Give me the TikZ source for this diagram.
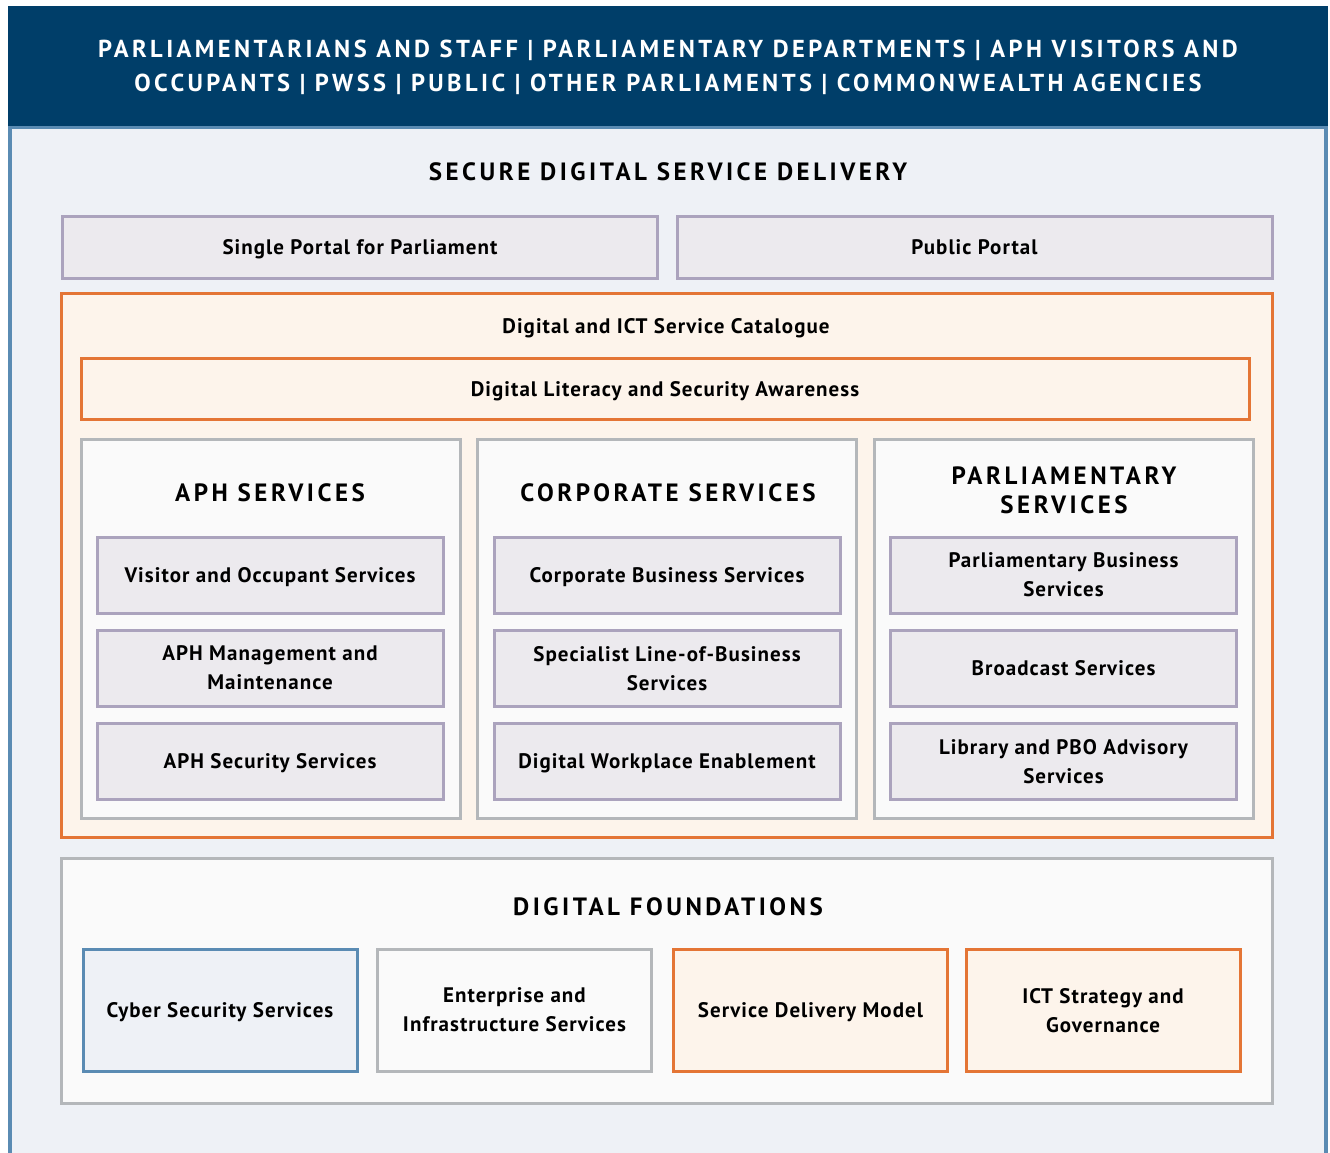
\documentclass[tikz,border=0pt]{standalone}
\usepackage{fontspec}
\setmainfont{PT Sans}
\newfontfamily\spacedfont[LetterSpace=14]{PT Sans}
\newfontfamily\trackfont[LetterSpace=5]{PT Sans}
\usetikzlibrary{positioning}

\definecolor{bannerblue}{HTML}{003E69}
\definecolor{panelfill}{HTML}{EEF1F6}
\definecolor{panelline}{HTML}{5A8BB3}
\definecolor{portalfill}{HTML}{ECEAEE}
\definecolor{portalline}{HTML}{ABA3BD}
\definecolor{catline}{HTML}{E47535}
\definecolor{catfill}{HTML}{FDF4EB}
\definecolor{greyline}{HTML}{B4B7BA}
\definecolor{whitefill}{HTML}{FAFAFA}

\newcommand{\boxfont}{\trackfont\fontsize{21}{29}\selectfont\bfseries}
\newcommand{\headfont}{\spacedfont\fontsize{25}{29}\selectfont\bfseries}

\begin{document}
\begin{tikzpicture}[x=1pt,y=-1pt,
  svcbox/.style={draw=portalline, fill=portalfill, line width=3pt, minimum width=346pt, minimum height=76pt, align=center, font=\boxfont, inner sep=0pt},
  portalbox/.style={svcbox, minimum width=595pt, minimum height=62pt},
  orangebox/.style={draw=catline, fill=catfill, line width=3pt, inner sep=0pt},
  greybox/.style={draw=greyline, fill=whitefill, line width=3pt, inner sep=0pt},
  columnbox/.style={greybox, minimum width=379pt, minimum height=379pt},
  footbox/.style={line width=3pt, minimum width=274pt, minimum height=122pt, align=center, font=\boxfont, inner sep=0pt},
  heading/.style={align=center, font=\headfont, inner sep=0pt},
  oneline/.style={text height=15pt, text depth=0pt},
  twoline/.style={text depth=0pt}]
\useasboundingbox (0,0) rectangle (1330,1153);
\fill[white] (0,0) rectangle (1330,1153);

% Panel and banner
\draw[panelline, fill=panelfill, line width=4pt] (10,127) rectangle (1326,1170);
\fill[bannerblue] (8,6) rectangle (1328,126);
\node[heading, text=white, font=\spacedfont\fontsize{24.5}{34}\selectfont\bfseries] (users) at (668,67)
  {PARLIAMENTARIANS AND STAFF | PARLIAMENTARY DEPARTMENTS | APH VISITORS AND\\
   OCCUPANTS | PWSS | PUBLIC | OTHER PARLIAMENTS | COMMONWEALTH AGENCIES};

\node[heading] (delivery) at (668,172) {SECURE DIGITAL SERVICE DELIVERY};

% Portals
\node[portalbox, oneline] (single) at (360,247) {Single Portal for Parliament};
\node[portalbox, oneline] (public) at (974.5,247) {Public Portal};

% Service catalogue
\node[orangebox, minimum width=1211pt, minimum height=544pt] (catalogue) at (666.5,565) {};
\node[font=\boxfont, oneline] (cattitle) at (666,326) {Digital and ICT Service Catalogue};
\node[orangebox, oneline, minimum width=1168pt, minimum height=61pt, font=\boxfont] (literacy) at (665,388.5)
  {Digital Literacy and Security Awareness};

% Columns
\node[columnbox] (aph) at (270.5,628.5) {};
\node[columnbox] (corp) at (667,628.5) {};
\node[columnbox] (parl) at (1063.5,628.5) {};
\node[heading] (aphtitle) at (270,493) {APH SERVICES};
\node[heading] (corptitle) at (668,493) {CORPORATE SERVICES};
\node[heading] (parltitle) at (1064,490) {PARLIAMENTARY\\SERVICES};

% APH services
\node[svcbox, oneline] (visitor) at (270,575) {Visitor and Occupant Services};
\node[svcbox, twoline] (maint) at (270,668) {APH Management and\\Maintenance};
\node[svcbox, oneline] (security) at (270,761) {APH Security Services};

% Corporate services
\node[svcbox, oneline] (business) at (667,575) {Corporate Business Services};
\node[svcbox, twoline] (specialist) at (667,668) {Specialist Line-of-Business\\Services};
\node[svcbox, oneline] (workplace) at (667,761) {Digital Workplace Enablement};

% Parliamentary services
\node[svcbox, twoline] (parlbus) at (1063.5,575) {Parliamentary Business\\Services};
\node[svcbox, oneline] (broadcast) at (1063.5,668) {Broadcast Services};
\node[svcbox, twoline] (library) at (1063.5,761) {Library and PBO Advisory\\Services};

% Digital foundations
\node[greybox, minimum width=1211pt, minimum height=245pt] (foundations) at (666.5,980.5) {};
\node[heading] (foundtitle) at (668,907) {DIGITAL FOUNDATIONS};
\node[footbox, oneline, draw=panelline, fill=panelfill] (cyber) at (220,1010) {Cyber Security Services};
\node[footbox, twoline, draw=greyline, fill=whitefill] (enterprise) at (514.5,1010) {Enterprise and\\Infrastructure Services};
\node[footbox, oneline, draw=catline, fill=catfill] (model) at (810.5,1010) {Service Delivery Model};
\node[footbox, twoline, draw=catline, fill=catfill] (strategy) at (1103,1010) {ICT Strategy and\\Governance};

\end{tikzpicture}
\end{document}
